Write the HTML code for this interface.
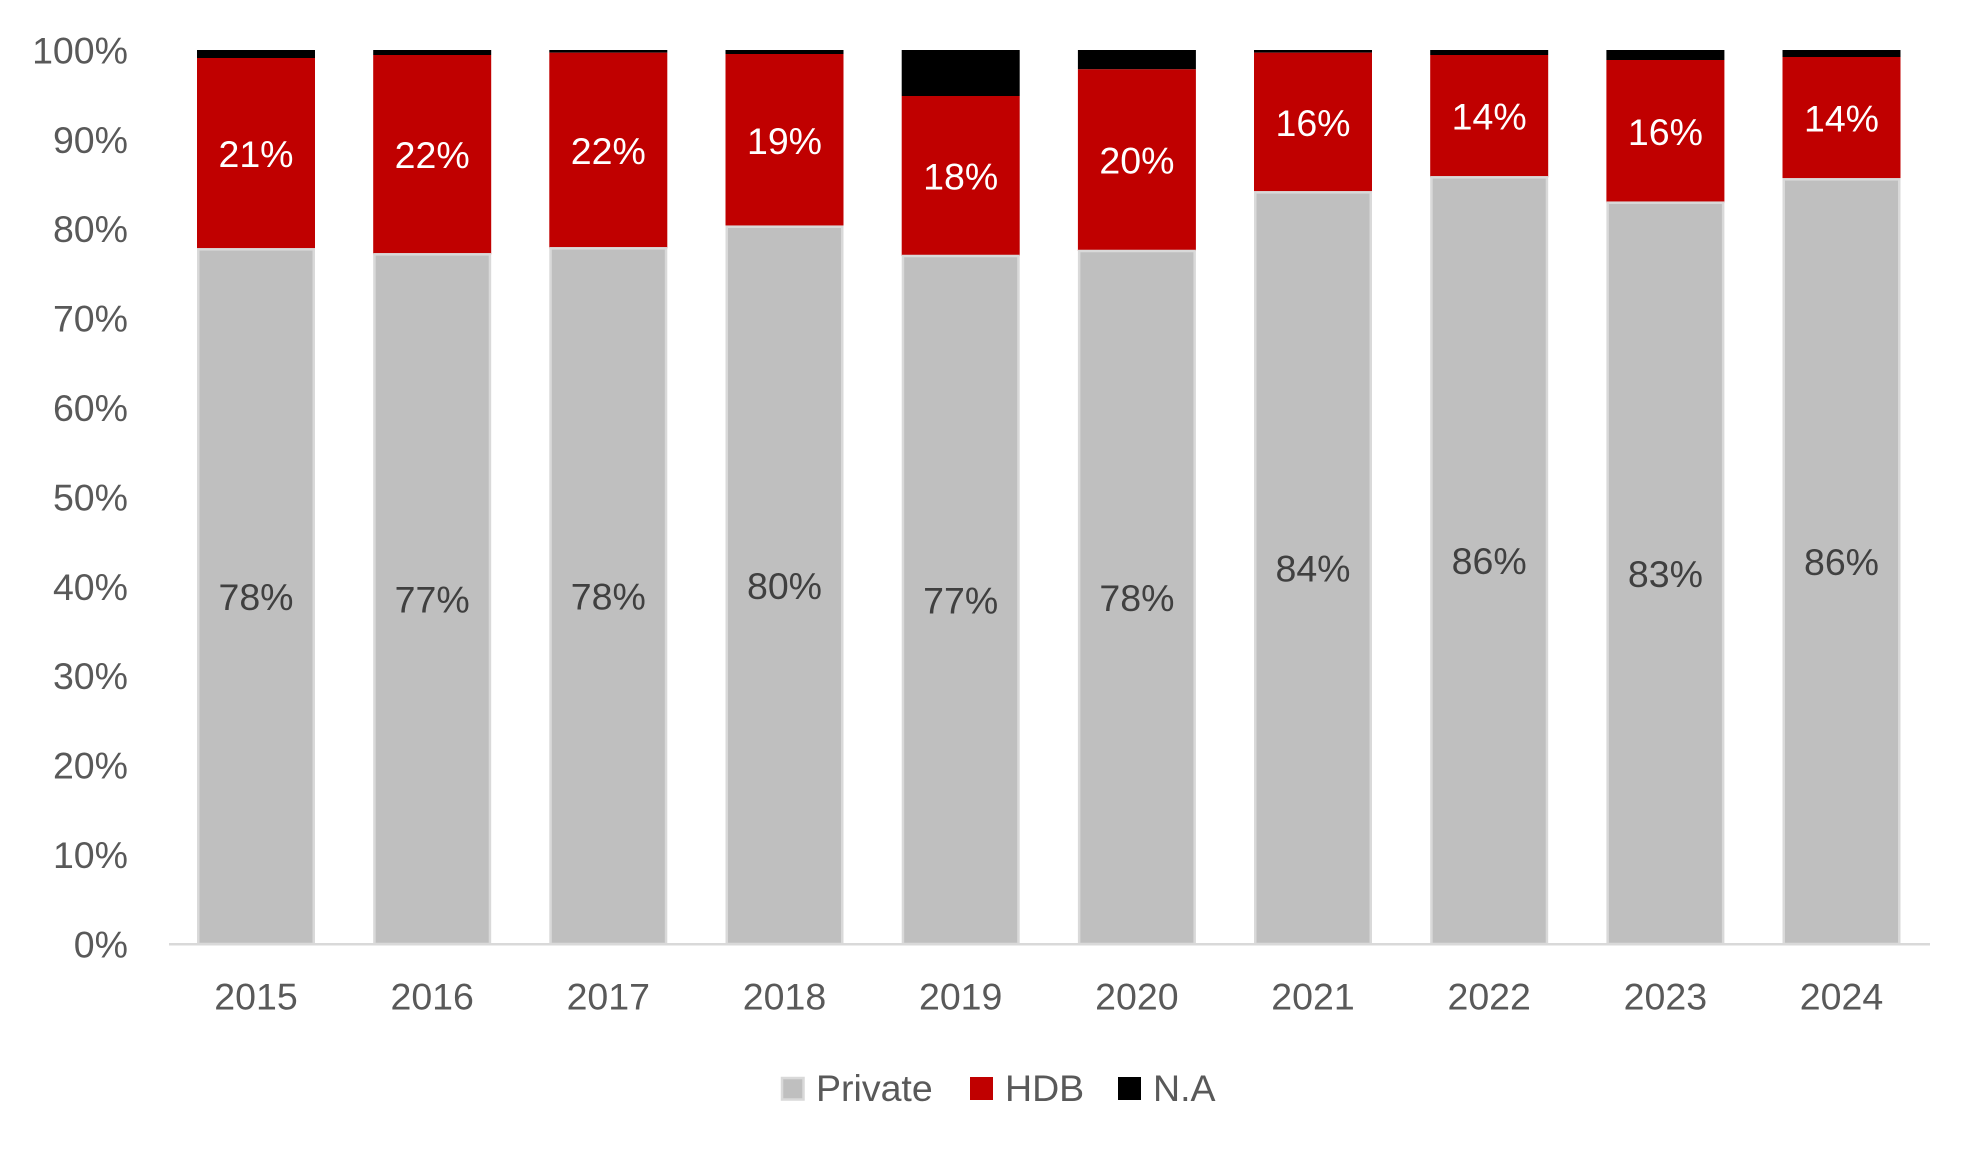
<!DOCTYPE html>
<html>
<head>
<meta charset="utf-8">
<style>
  html, body { margin: 0; padding: 0; background: #ffffff; }
  svg { display: block; }
  text { font-family: "Liberation Sans", Arial, sans-serif; }
</style>
</head>
<body>
<svg width="1980" height="1155" viewBox="0 0 1980 1155" xmlns="http://www.w3.org/2000/svg">
  <rect x="0" y="0" width="1980" height="1155" fill="#ffffff"/>

  <!-- Y axis labels -->
  <g font-size="37.5" fill="#595959" text-anchor="end">
    <text x="128" y="957.4">0%</text>
    <text x="128" y="868.0">10%</text>
    <text x="128" y="778.6">20%</text>
    <text x="128" y="689.2">30%</text>
    <text x="128" y="599.8">40%</text>
    <text x="128" y="510.4">50%</text>
    <text x="128" y="421.0">60%</text>
    <text x="128" y="331.6">70%</text>
    <text x="128" y="242.2">80%</text>
    <text x="128" y="152.8">90%</text>
    <text x="128" y="63.4">100%</text>
  </g>

  <!-- Bars -->
  <!-- 2015 center 256 -->
  <g>
    <rect x="197" y="50" width="118" height="8" fill="#000000"/>
    <rect x="197" y="58" width="118" height="191.3" fill="#c00000"/>
    <rect x="198.25" y="249.3" width="115.5" height="694.7" fill="#bfbfbf" stroke="#d9d9d9" stroke-width="2.5"/>
  </g>
  <!-- 2016 center 432.2 -->
  <g>
    <rect x="373.2" y="50" width="118" height="5" fill="#000000"/>
    <rect x="373.2" y="55" width="118" height="199.3" fill="#c00000"/>
    <rect x="374.45" y="254.3" width="115.5" height="689.7" fill="#bfbfbf" stroke="#d9d9d9" stroke-width="2.5"/>
  </g>
  <!-- 2017 center 608.3 -->
  <g>
    <rect x="549.3" y="50" width="118" height="2.7" fill="#000000"/>
    <rect x="549.3" y="52.7" width="118" height="195.6" fill="#c00000"/>
    <rect x="550.55" y="248.3" width="115.5" height="695.7" fill="#bfbfbf" stroke="#d9d9d9" stroke-width="2.5"/>
  </g>
  <!-- 2018 center 784.5 -->
  <g>
    <rect x="725.5" y="50" width="118" height="4" fill="#000000"/>
    <rect x="725.5" y="54" width="118" height="172.7" fill="#c00000"/>
    <rect x="726.75" y="226.7" width="115.5" height="717.3" fill="#bfbfbf" stroke="#d9d9d9" stroke-width="2.5"/>
  </g>
  <!-- 2019 center 960.7 -->
  <g>
    <rect x="901.7" y="50" width="118" height="46" fill="#000000"/>
    <rect x="901.7" y="96" width="118" height="160" fill="#c00000"/>
    <rect x="902.95" y="256" width="115.5" height="688" fill="#bfbfbf" stroke="#d9d9d9" stroke-width="2.5"/>
  </g>
  <!-- 2020 center 1136.9 -->
  <g>
    <rect x="1077.9" y="50" width="118" height="19.3" fill="#000000"/>
    <rect x="1077.9" y="69.3" width="118" height="181.7" fill="#c00000"/>
    <rect x="1079.15" y="251" width="115.5" height="693" fill="#bfbfbf" stroke="#d9d9d9" stroke-width="2.5"/>
  </g>
  <!-- 2021 center 1313.0 -->
  <g>
    <rect x="1254" y="50" width="118" height="2.7" fill="#000000"/>
    <rect x="1254" y="52.7" width="118" height="139.6" fill="#c00000"/>
    <rect x="1255.25" y="192.3" width="115.5" height="751.7" fill="#bfbfbf" stroke="#d9d9d9" stroke-width="2.5"/>
  </g>
  <!-- 2022 center 1489.2 -->
  <g>
    <rect x="1430.2" y="50" width="118" height="5" fill="#000000"/>
    <rect x="1430.2" y="55" width="118" height="122.3" fill="#c00000"/>
    <rect x="1431.45" y="177.3" width="115.5" height="766.7" fill="#bfbfbf" stroke="#d9d9d9" stroke-width="2.5"/>
  </g>
  <!-- 2023 center 1665.4 -->
  <g>
    <rect x="1606.4" y="50" width="118" height="10" fill="#000000"/>
    <rect x="1606.4" y="60" width="118" height="142.7" fill="#c00000"/>
    <rect x="1607.65" y="202.7" width="115.5" height="741.3" fill="#bfbfbf" stroke="#d9d9d9" stroke-width="2.5"/>
  </g>
  <!-- 2024 center 1841.5 -->
  <g>
    <rect x="1782.5" y="50" width="118" height="7" fill="#000000"/>
    <rect x="1782.5" y="57" width="118" height="122.3" fill="#c00000"/>
    <rect x="1783.75" y="179.3" width="115.5" height="764.7" fill="#bfbfbf" stroke="#d9d9d9" stroke-width="2.5"/>
  </g>

  <!-- Axis line -->
  <rect x="169" y="943" width="1761" height="2.5" fill="#d9d9d9"/>

  <!-- HDB data labels -->
  <g font-size="37.5" fill="#ffffff" text-anchor="middle">
    <text x="256" y="167.1">21%</text>
    <text x="432.2" y="168.1">22%</text>
    <text x="608.3" y="163.9">22%</text>
    <text x="784.5" y="153.8">19%</text>
    <text x="960.7" y="189.4">18%</text>
    <text x="1136.9" y="173.6">20%</text>
    <text x="1313.0" y="135.9">16%</text>
    <text x="1489.2" y="129.6">14%</text>
    <text x="1665.4" y="144.8">16%</text>
    <text x="1841.5" y="131.6">14%</text>
  </g>

  <!-- Private data labels -->
  <g font-size="37.5" fill="#404040" text-anchor="middle">
    <text x="256" y="610.1">78%</text>
    <text x="432.2" y="612.6">77%</text>
    <text x="608.3" y="609.6">78%</text>
    <text x="784.5" y="598.8">80%</text>
    <text x="960.7" y="613.4">77%</text>
    <text x="1136.9" y="610.9">78%</text>
    <text x="1313.0" y="581.6">84%</text>
    <text x="1489.2" y="574.1">86%</text>
    <text x="1665.4" y="586.8">83%</text>
    <text x="1841.5" y="575.1">86%</text>
  </g>

  <!-- X axis labels -->
  <g font-size="37.5" fill="#595959" text-anchor="middle">
    <text x="256" y="1009.5">2015</text>
    <text x="432.2" y="1009.5">2016</text>
    <text x="608.3" y="1009.5">2017</text>
    <text x="784.5" y="1009.5">2018</text>
    <text x="960.7" y="1009.5">2019</text>
    <text x="1136.9" y="1009.5">2020</text>
    <text x="1313.0" y="1009.5">2021</text>
    <text x="1489.2" y="1009.5">2022</text>
    <text x="1665.4" y="1009.5">2023</text>
    <text x="1841.5" y="1009.5">2024</text>
  </g>

  <!-- Legend -->
  <rect x="782" y="1078" width="21.5" height="21.5" fill="#bfbfbf" stroke="#d9d9d9" stroke-width="2.5"/>
  <text x="816" y="1101" font-size="37.5" fill="#595959">Private</text>
  <rect x="970" y="1077" width="23" height="23" fill="#c00000"/>
  <text x="1005" y="1101" font-size="37.5" fill="#595959">HDB</text>
  <rect x="1118" y="1077" width="23" height="23" fill="#000000"/>
  <text x="1153" y="1101" font-size="37.5" fill="#595959">N.A</text>
</svg>
</body>
</html>
